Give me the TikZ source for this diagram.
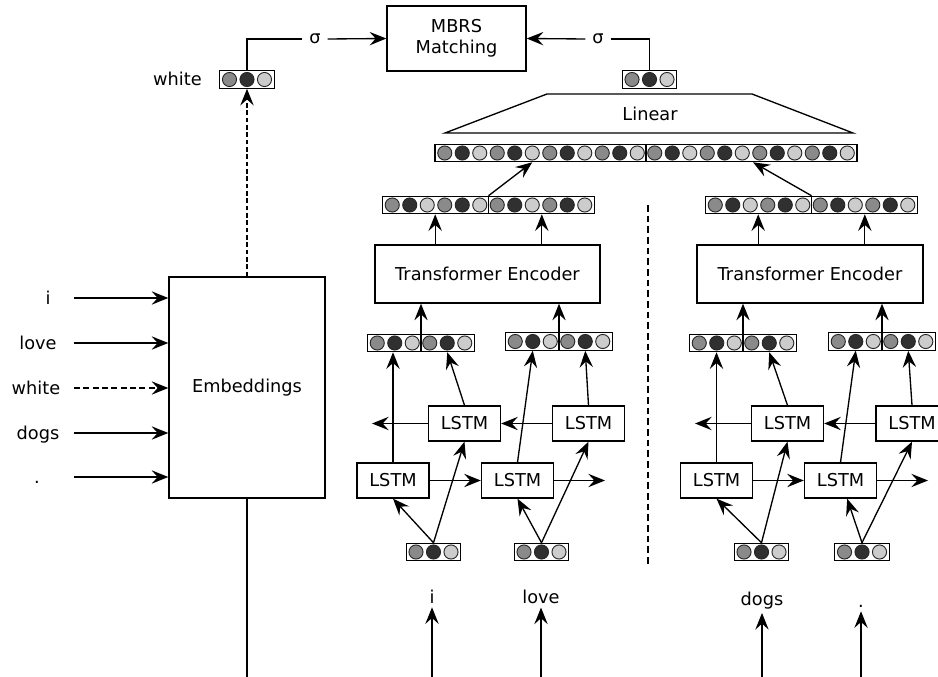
\documentclass[tikz,border=0pt]{standalone}
\usepackage{fontspec}
\setmainfont{DejaVu Sans}
\usetikzlibrary{arrows.meta,calc}
\definecolor{cgrey}{HTML}{8A8A8A}
\definecolor{cdark}{HTML}{303030}
\definecolor{clight}{HTML}{CCCCCC}
\tikzset{
  every node/.style={font=\fontsize{13.3}{15.5}\selectfont},
  box/.style={draw, fill=white, line width=1pt, inner sep=0pt, align=center},
  lstm/.style={box, minimum width=54pt, minimum height=26.25pt},
  vbox/.style={draw, fill=white, line width=0.9pt, inner sep=0pt, minimum height=13pt},
  arr/.style={line width=1pt, -{Stealth[length=12.5pt,width=10pt,inset=4.5pt]}},
  ln/.style={line width=1pt},
  lbl/.style={anchor=base, inner sep=3pt},
  sig/.style={inner sep=5pt},
  circ/.style={draw=black!85, line width=0.7pt},
}
\newcommand\cvec[4]{%
  \node[vbox, minimum width={#4*13.125pt+1.5pt}] (#1) at (#2,#3) {};
  \foreach \i in {1,...,#4}{%
    \pgfmathtruncatemacro\k{mod(\i-1,3)}%
    \ifcase\k\relax\def\cc{cgrey}\or\def\cc{cdark}\else\def\cc{clight}\fi
    \coordinate (#1-\i) at ({#2+(\i-0.5-#4/2)*17.5},#3);
    \filldraw[circ, fill=\cc] (#1-\i) circle[radius=5.3pt];
  }%
}
\begin{document}
\begin{tikzpicture}[x=0.75pt,y=-0.75pt]
\useasboundingbox (0,0) rectangle (938,677);
\clip (0,0) rectangle (938,677);

% top: MBRS matching
\node[box, minimum width=104.25pt, minimum height=48.75pt] (M) at (456.5,38.5) {MBRS\\Matching};
\cvec{W}{247}{79.5}{3}
\cvec{R}{649.5}{79.5}{3}
\node[sig] (sigL) at (315,39) {σ};
\node[sig] (sigR) at (598,39) {σ};
\draw[ln] (W.north) |- (sigL.west);
\draw[arr] (sigL.east) -- (M.west);
\draw[arr] (sigR.west) -- (M.east);
\draw[ln] (sigR.east) -| (R.north);
\node[lbl] (wlab) at (177.5,86) {white};

% Linear layer
\node (lin) at (650,114) {Linear};
\draw[ln] (445,133) -- (547,94) -- (752,94) -- (853,133) -- cycle;

\cvec{BV}{646}{153}{24}
\draw[ln] (BV.north) -- (BV.south);

\cvec{M1}{488.5}{205}{12}
\draw[ln] (M1.north) -- (M1.south);
\cvec{M2}{811.5}{205}{12}
\draw[ln] (M2.north) -- (M2.south);
\draw[arr] (M1.north) -- (BV-6 |- BV.south);
\draw[arr] (M2.north) -- ($(BV.south)+(107,0)$);

% transformer encoders
\node[box, minimum width=168.75pt, minimum height=43.5pt] (T1) at (487.5,274) {Transformer Encoder};
\node[box, minimum width=169.5pt, minimum height=43.5pt] (T2) at (810,274) {Transformer Encoder};
\coordinate (m1a) at ($(M1.south west)!0.25!(M1.south east)$);
\coordinate (m1b) at ($(M1.south west)!0.75!(M1.south east)$);
\coordinate (m2a) at ($(M2.south west)!0.25!(M2.south east)$);
\coordinate (m2b) at ($(M2.south west)!0.75!(M2.south east)$);
\draw[arr] (m1a |- T1.north) -- (m1a);
\draw[arr] (m1b |- T1.north) -- (m1b);
\draw[arr] (m2a |- T2.north) -- (m2a);
\draw[arr] (m2b |- T2.north) -- (m2b);

% pair vectors
\cvec{P1}{421}{343}{6}
\draw[ln] (P1.north) -- (P1.south);
\cvec{P2}{559}{341.5}{6}
\draw[ln] (P2.north) -- (P2.south);
\cvec{P3}{743}{343}{6}
\draw[ln] (P3.north) -- (P3.south);
\cvec{P4}{882}{341.5}{6}
\draw[ln] (P4.north) -- (P4.south);
\draw[arr] (P1.north) -- (P1.north |- T1.south);
\draw[arr] (P2.north) -- (P2.north |- T1.south);
\draw[arr] (P3.north) -- (P3.north |- T2.south);
\draw[arr] (P4.north) -- (P4.north |- T2.south);

% LSTMs
\node[lstm] (F1) at (393,480.5) {LSTM};
\node[lstm] (B1) at (464.5,423.5) {LSTM};
\node[lstm] (F2) at (517.5,480.5) {LSTM};
\node[lstm] (B2) at (588.5,423.5) {LSTM};
\node[lstm] (F3) at (716.5,480.5) {LSTM};
\node[lstm] (B3) at (787.5,423.5) {LSTM};
\node[lstm] (F4) at (840.5,480.5) {LSTM};
\node[lstm] (B4) at (912,423.5) {LSTM};
\coordinate (f2o) at (605,480.5);
\coordinate (b1o) at (372,423.5);
\coordinate (f4o) at (928,480.5);
\coordinate (b3o) at (695,423.5);
\draw[arr] (F1) -- (F2);
\draw[arr] (F2) -- (f2o);
\draw[arr] (B2) -- (B1);
\draw[arr] (B1) -- (b1o);
\draw[arr] (F3) -- (F4);
\draw[arr] (F4) -- (f4o);
\draw[arr] (B4) -- (B3);
\draw[arr] (B3) -- (b3o);

\draw[arr] (F1.north) -- (F1.north |- P1.south);
\draw[arr] (B1.north) -- (P1-5 |- P1.south);
\draw[arr] (F2.north) -- (P2-2 |- P2.south);
\draw[arr] (B2.north) -- (P2-5 |- P2.south);
\draw[arr] (F3.north) -- (F3.north |- P3.south);
\draw[arr] (B3.north) -- (P3-5 |- P3.south);
\draw[arr] (F4.north) -- (P4-2 |- P4.south);
\draw[arr] (B4.north) -- (P4-5 |- P4.south);

% input vectors
\cvec{I1}{433.5}{552}{3}
\cvec{I2}{541.5}{552}{3}
\cvec{I3}{761.5}{552}{3}
\cvec{I4}{862}{552}{3}
\draw[arr] (I1.north) -- (F1.south);
\draw[arr] (I1.north) -- (B1.south);
\draw[arr] (I2.north) -- (F2.south);
\draw[arr] (I2.north) -- (B2.south);
\draw[arr] (I3.north) -- (F3.south);
\draw[arr] (I3.north) -- (B3.south);
\draw[arr] (I4.north) -- ([xshift=5pt]F4.south);
\draw[arr] (I4.north) -- (B4.south);

% separator
\draw[ln, dash pattern=on 5pt off 3pt] (648,205) -- (648,565);

% bottom words
\node[lbl] (bi) at (432,603) {i};
\node[lbl] (bl) at (541,603) {love};
\node[lbl] (bd) at (762,605) {dogs};
\node[lbl] (bp) at (861,607) {.};
\coordinate (ci) at (432,677);
\coordinate (cl) at (541,677);
\coordinate (cd) at (762,677);
\coordinate (cp) at (861,677);
\draw[arr] (ci) -- (bi.south);
\draw[arr] (cl) -- (bl.south);
\draw[arr] (cd) -- (bd.south);
\draw[arr] (cp) -- (bp.south);

% embeddings
\node[box, minimum width=117pt, minimum height=165.75pt] (E) at (247,387.5) {Embeddings};
\draw[arr, dash pattern=on 3.5pt off 2pt] (E.north) -- (W.south);
\coordinate (ebot) at (247,677);
\draw[ln] (E.south) -- (ebot);

\node[lbl] (li) at (48,304) {i};
\node[lbl] (ll) at (38,349) {love};
\node[lbl] (lw) at (36,394) {white};
\node[lbl] (ld) at (38,439) {dogs};
\node[lbl] (lp) at (37,483) {.};
\coordinate (ai) at (74,298);
\coordinate (al) at (74,343);
\coordinate (aw) at (74,388);
\coordinate (ad) at (74,433);
\coordinate (ap) at (74,477);
\draw[arr] (ai) -- (ai -| E.west);
\draw[arr] (al) -- (al -| E.west);
\draw[arr, dash pattern=on 4.5pt off 2.5pt] (aw) -- (aw -| E.west);
\draw[arr] (ad) -- (ad -| E.west);
\draw[arr] (ap) -- (ap -| E.west);
\end{tikzpicture}
\end{document}
